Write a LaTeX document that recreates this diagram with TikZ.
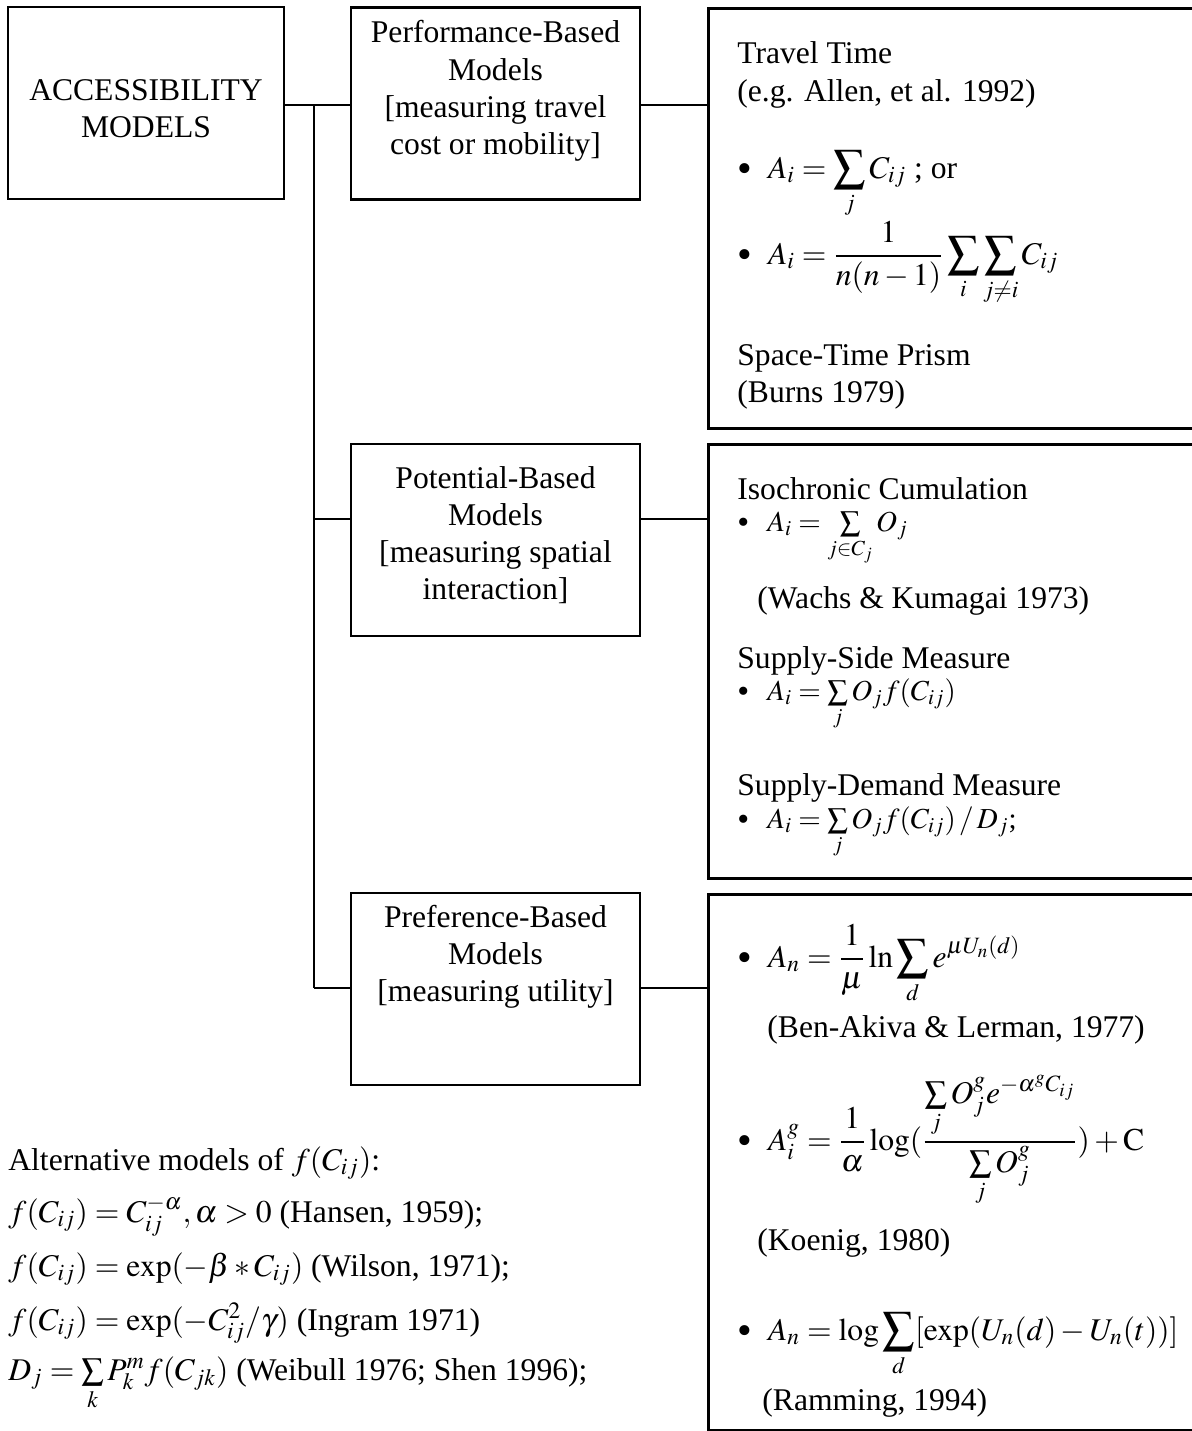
\documentclass[tikz,border=0pt]{standalone}
\usepackage{amsmath}
\usepackage{mathptmx}
\usepackage[no-math]{fontspec}
\setmainfont{Liberation Serif}
\usepackage{tikz}
\usetikzlibrary{positioning, calc}

\newcommand\boxfont{\fontsize{15.8}{18.6}\selectfont}
\newcommand\smallmath{\fontsize{14.5}{17}\selectfont}
\newcommand\bigdot{\raisebox{-2pt}{\fontsize{21}{21}\selectfont\textbullet}\hspace{8pt}}
\newcommand\smalldot{\raisebox{-1pt}{\fontsize{17}{17}\selectfont\textbullet}\hspace{9pt}}

\tikzset{
  modelbox/.style={draw, line width=1.4pt, minimum width=144.5pt, minimum height=96pt, inner sep=0pt},
  measbox/.style={draw, line width=1.4pt, inner sep=0pt, anchor=north west},
  boxtext/.style={align=center, font=\boxfont, inner sep=0pt},
  entry/.style={anchor=base west, inner sep=0pt, font=\boxfont},
  link/.style={line width=1pt}
}

\begin{document}
\begin{tikzpicture}[x=0.5pt, y=-0.5pt]
\useasboundingbox (0,0) rectangle (1191,1431);

% Root box
\node[modelbox, minimum width=138pt] (access) at (146,103) {};
\node[boxtext] (accesstxt) at (146,109) {ACCESSIBILITY\\MODELS};

% Model classes
\node[modelbox] (perf) at (495.5,103.5) {};
\node[boxtext] (perftxt) at (495.5,91) {Performance-Based\\Models\\{}[measuring travel\\cost or mobility]};

\node[modelbox] (poten) at (495.5,540) {};
\node[boxtext] (potentxt) at (495.5,535) {Potential-Based\\Models\\{}[measuring spatial\\interaction]};

\node[modelbox] (pref) at (495.5,989) {};
\node[boxtext] (preftxt) at (495.5,957) {Preference-Based\\Models\\{}[measuring utility]};

% Measure boxes
\node[measbox, minimum width=244pt, minimum height=210pt] (travel) at (707,7) {};
\node[measbox, minimum width=244pt, minimum height=217pt] (iso) at (707,443) {};
\node[measbox, minimum width=244pt, minimum height=268pt] (util) at (707,893) {};

% Connectors
\coordinate (jt) at (314,105);
\coordinate (k2) at (314,519);
\coordinate (k3) at (314,988);
\draw[link] (access.east |- jt) -- (jt -| perf.west);
\draw[link] (jt) -- (k3);
\draw[link] (k2) -- (k2 -| poten.west);
\draw[link] (k3) -- (k3 -| pref.west);
\draw[link] (jt -| perf.east) -- (jt -| travel.west);
\draw[link] (k2 -| poten.east) -- (k2 -| iso.west);
\draw[link] (k3 -| pref.east) -- (k3 -| util.west);

% Performance-based measures
\node[entry] (ttime) at (737,63) {Travel Time};
\node[entry] (ttref) at (737,101) {(e.g. Allen, et al. 1992)};
\node[entry] (tb1) at (737,178) {\bigdot$\displaystyle A_i=\sum_j C_{ij}$ ; or};
\node[entry] (tb2) at (737,264) {\bigdot$\displaystyle A_i=\frac{1}{n(n-1)}\sum_i\sum_{j\neq i}C_{ij}$};
\node[entry] (stprism) at (737,365) {Space-Time Prism};
\node[entry] (stref) at (737,402) {(Burns 1979)};

% Potential-based measures
\node[entry] (isotitle) at (737,499) {Isochronic Cumulation};
\node[entry] (isob) at (737,531) {\smallmath\smalldot$A_i=\sum\limits_{j\in C_j}O_j$};
\node[entry] (isoref) at (757,608) {(Wachs \& Kumagai 1973)};
\node[entry] (ssm) at (737,668) {Supply-Side Measure};
\node[entry] (ssmb) at (737,700) {\smallmath\smalldot$A_i=\sum\limits_j O_j f(C_{ij})$};
\node[entry] (sdm) at (737,795) {Supply-Demand Measure};
\node[entry] (sdmb) at (737,828) {\smallmath\smalldot$A_i=\sum\limits_j O_j f(C_{ij})\,/\,D_j$;};

% Preference-based measures
\node[entry] (ub1) at (737,967) {\bigdot$\displaystyle A_n=\frac{1}{\mu}\ln\sum_d e^{\mu U_n(d)}$};
\node[entry] (ubref1) at (767,1037) {(Ben-Akiva \& Lerman, 1977)};
\node[entry] (ub2) at (737,1150) {\bigdot$\displaystyle A_i^g=\frac{1}{\alpha}\log(\frac{\sum\limits_j O_j^g e^{-\alpha^g C_{ij}}}{\sum\limits_j O_j^g})+\mathrm{C}$};
\node[entry] (ubref2) at (757,1250) {(Koenig, 1980)};
\node[entry] (ub3) at (737,1340) {\bigdot$\displaystyle A_n=\log\sum_d[\exp(U_n(d)-U_n(t))]$};
\node[entry] (ubref3) at (762,1410) {(Ramming, 1994)};

% Distance decay functions
\node[entry] (alt) at (8,1170) {Alternative models of $f(C_{ij})$:};
\node[entry] (hansen) at (8,1222) {$f(C_{ij})=C_{ij}^{-\alpha},\alpha>0$ (Hansen, 1959);};
\node[entry] (wilson) at (8,1276) {$f(C_{ij})=\exp(-\beta*C_{ij})$ (Wilson, 1971);};
\node[entry] (ingram) at (8,1330) {$f(C_{ij})=\exp(-C_{ij}^2/\gamma)$ (Ingram 1971)};
\node[entry] (weibull) at (8,1380) {$D_j=\sum\limits_k P_k^m f(C_{jk})$ (Weibull 1976; Shen 1996);};
\end{tikzpicture}
\end{document}
